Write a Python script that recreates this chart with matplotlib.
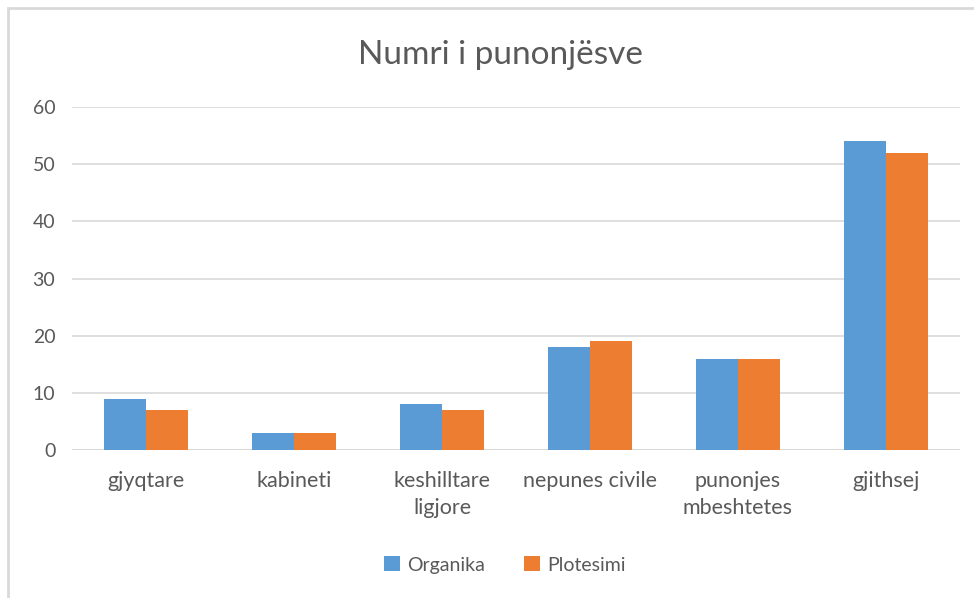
import matplotlib.pyplot as plt
import numpy as np
from matplotlib.patches import Rectangle

categories = ["gjyqtare", "kabineti", "keshilltare\nligjore", "nepunes civile", "punonjes\nmbeshtetes", "gjithsej"]
organika = [9, 3, 8, 18, 16, 54]
plotesimi = [7, 3, 7, 19, 16, 52]
yticks = [0, 10, 20, 30, 40, 50, 60]

plt.rcParams['font.family'] = ['Lato', 'DejaVu Sans']
txt = '#595959'

fig = plt.figure(figsize=(9.74, 5.98), dpi=100)
W, H = 974, 598
ax = fig.add_axes([72 / W, 1 - 450 / H, 888 / W, 343 / H])

x = np.arange(len(categories))
bw = 0.284
ax.bar(x - bw / 2, organika, bw, color='#5B9BD5', label='Organika', zorder=3)
ax.bar(x + bw / 2, plotesimi, bw, color='#ED7D31', label='Plotesimi', zorder=3)

ax.set_xlim(-0.5, len(categories) - 0.5)
ax.set_ylim(0, 60)
ax.set_yticks(yticks)
ax.yaxis.grid(True, color='#D9D9D9', linewidth=1.2, zorder=0)
for s in ax.spines.values():
    s.set_visible(False)
ax.axhline(0, color='#D9D9D9', linewidth=1.2, zorder=2)
ax.tick_params(axis='both', length=0, colors=txt)
ax.tick_params(axis='y', pad=12, labelsize=14)
ax.tick_params(axis='x', pad=15, labelsize=15.5)
ax.set_xticks(x)
ax.set_xticklabels(categories, linespacing=1.45)

fig.text(500 / W, 1 - 55 / H, "Numri i punonjësve", ha='center', va='center',
         fontsize=24, color=txt)

leg = fig.legend(loc='center', bbox_to_anchor=(505 / W, 1 - 565 / H), ncol=2,
                 frameon=False, fontsize=14, handlelength=0.8, handleheight=0.8,
                 columnspacing=2.0, handletextpad=0.4)
for t in leg.get_texts():
    t.set_color(txt)

fig.patches.append(Rectangle((8 / W, -0.1), 1.2, 1 - 8 / H + 0.1, transform=fig.transFigure,
                             fill=False, edgecolor='#D9D9D9', linewidth=2))

fig.savefig("out.png", dpi=100)
